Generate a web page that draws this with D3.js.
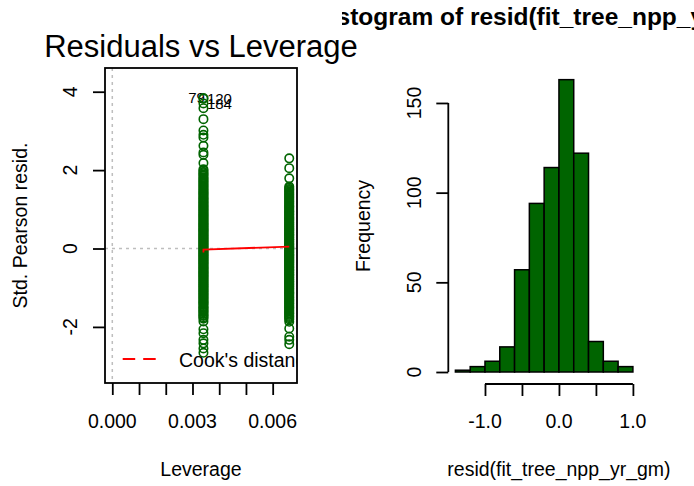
<!DOCTYPE html>
<html><head><meta charset="utf-8">
<script src="https://cdn.jsdelivr.net/npm/d3@7"></script>
<style>body{margin:0;background:#fff}svg{display:block}text{font-family:"Liberation Sans",Arial,sans-serif;fill:#000}</style>
</head><body>
<svg id="c" width="694" height="486"></svg>
<script>
// ---- Left panel: Residuals vs Leverage ----
const leverageGroups = [0.00341, 0.00662];
const residGroup1 = [-2.66,-2.55,-2.42,-2.33,-2.16,-2.06,-1.86,
-1.79,-1.76,-1.72,-1.70,-1.67,-1.63,-1.61,-1.58,-1.55,-1.52,-1.50,-1.47,-1.43,-1.41,-1.38,-1.36,-1.33,-1.30,-1.27,-1.25,-1.22,-1.19,-1.17,-1.14,-1.11,-1.09,-1.06,-1.04,-1.01,-0.98,-0.96,-0.93,-0.91,-0.88,-0.86,-0.83,-0.81,-0.78,-0.76,-0.73,-0.71,-0.68,-0.66,-0.63,-0.61,-0.59,-0.56,-0.54,-0.51,-0.49,-0.47,-0.44,-0.42,-0.39,-0.37,-0.35,-0.32,-0.30,-0.28,-0.25,-0.23,-0.21,-0.18,-0.16,-0.14,-0.11,-0.09,-0.07,-0.04,-0.02,0.00,0.03,0.05,0.07,0.10,0.12,0.14,0.17,0.19,0.21,0.24,0.26,0.28,0.31,0.33,0.35,0.38,0.40,0.43,0.45,0.47,0.50,0.52,0.55,0.57,0.60,0.62,0.64,0.67,0.69,0.72,0.74,0.77,0.79,0.82,0.84,0.87,0.89,0.92,0.95,0.97,1.00,1.02,1.05,1.08,1.10,1.13,1.16,1.18,1.21,1.24,1.27,1.29,1.32,1.35,1.38,1.41,1.43,1.46,1.49,1.52,1.55,1.58,1.61,1.64,1.67,1.70,1.73,1.76,1.79,1.82,1.86,1.89,1.92,1.95,1.99,
2.02,2.18,2.39,2.45,2.62,2.83,2.90,3.01,3.30,3.58,3.70,3.82,3.84];
const residGroup2 = [-2.44,-2.33,-2.25,-2.04,-1.87,
-1.81,-1.78,-1.75,-1.72,-1.69,-1.66,-1.64,-1.61,-1.58,-1.55,-1.52,-1.50,-1.47,-1.44,-1.41,-1.39,-1.36,-1.33,-1.31,-1.28,-1.25,-1.23,-1.20,-1.17,-1.15,-1.12,-1.10,-1.07,-1.04,-1.02,-0.99,-0.97,-0.94,-0.92,-0.89,-0.87,-0.84,-0.82,-0.79,-0.77,-0.74,-0.72,-0.69,-0.67,-0.65,-0.62,-0.60,-0.57,-0.55,-0.53,-0.50,-0.48,-0.46,-0.43,-0.41,-0.38,-0.36,-0.34,-0.31,-0.29,-0.27,-0.24,-0.22,-0.20,-0.17,-0.15,-0.13,-0.10,-0.08,-0.06,-0.03,-0.01,0.02,0.04,0.06,0.09,0.11,0.13,0.16,0.18,0.21,0.23,0.25,0.28,0.30,0.33,0.35,0.37,0.40,0.42,0.45,0.47,0.50,0.52,0.55,0.57,0.60,0.62,0.65,0.67,0.70,0.73,0.75,0.78,0.80,0.83,0.86,0.88,0.91,0.94,0.96,0.99,1.02,1.05,1.07,1.10,1.13,1.16,1.19,1.22,1.25,1.28,1.31,1.34,1.37,1.40,1.43,1.46,1.49,1.52,1.55,1.58,
1.79,2.05,2.30];
const smoothLev = [0.00341, 0.00341, 0.00662];
const smoothRes = [-0.10, -0.03, 0.05];
const idLabels = ["79", "120", "184"];
const idLev = [0.00341, 0.00341, 0.00341];
const idRes = [3.84, 3.82, 3.70];
const idSide = ["left", "right", "right"];
const levTicks = [0, 0.001, 0.002, 0.003, 0.004, 0.005, 0.006];
const levTickLabels = ["0.000", "0.003", "0.006"];
const residTicks = [-2, 0, 2, 4];

// ---- Right panel: histogram ----
const histBreaks = [-1.4,-1.2,-1.0,-0.8,-0.6,-0.4,-0.2,0.0,0.2,0.4,0.6,0.8,1.0];
const histCounts = [1,3,6,14,57,94,114,163,122,17,6,3];
const histXTicks = [-1.0,-0.5,0.0,0.5,1.0];
const histXTickLabels = ["-1.0","0.0","1.0"];
const histYTicks = [0,50,100,150];

const svg = d3.select("#c");
const FS = 19.5;
const green = "#006400";

// Left panel scales
const L = {l:105, r:297, t:68, b:383};
const x1 = d3.scaleLinear().domain([-0.000273, 0.00691]).range([L.l, L.r]);
const y1 = d3.scaleLinear().domain([-3.431, 4.605]).range([L.b, L.t]);

svg.append("defs").append("clipPath").attr("id","clipL")
  .append("rect").attr("x",L.l).attr("y",L.t).attr("width",L.r-L.l).attr("height",L.b-L.t);
svg.select("defs").append("clipPath").attr("id","clipT")
  .append("rect").attr("x",342).attr("y",0).attr("width",352).attr("height",60);

const gL = svg.append("g").attr("clip-path","url(#clipL)");
// reference lines
gL.append("line").attr("x1",L.l).attr("x2",L.r).attr("y1",y1(0)).attr("y2",y1(0))
  .attr("stroke","#bebebe").attr("stroke-width",1.5).attr("stroke-dasharray","3,4");
gL.append("line").attr("x1",x1(0)).attr("x2",x1(0)).attr("y1",L.t).attr("y2",L.b)
  .attr("stroke","#bebebe").attr("stroke-width",1.5).attr("stroke-dasharray","3,4");

// id labels
idLabels.forEach((lab,i)=>{
  const px = x1(idLev[i]) + (idSide[i]==="left" ? 1.5 : 3.5);
  gL.append("text").attr("x",px).attr("y",y1(idRes[i])+5.5)
    .attr("text-anchor", idSide[i]==="left" ? "end" : "start")
    .attr("font-size",15).attr("fill","#222").text(lab);
});

// points
const pts = [];
residGroup1.forEach(v=>pts.push([leverageGroups[0], v]));
residGroup2.forEach(v=>pts.push([leverageGroups[1], v]));
gL.selectAll("circle.p").data(pts).enter().append("circle").attr("class","p")
  .attr("cx",d=>x1(d[0])).attr("cy",d=>y1(d[1])).attr("r",4.2)
  .attr("fill","none").attr("stroke",green).attr("stroke-width",1.6);

// smooth line
gL.append("path").datum(d3.zip(smoothLev, smoothRes))
  .attr("d", d3.line().x(d=>x1(d[0])).y(d=>y1(d[1])))
  .attr("fill","none").attr("stroke","red").attr("stroke-width",1.8);

// legend
gL.append("line").attr("x1",122.7).attr("x2",155.7).attr("y1",359).attr("y2",359)
  .attr("stroke","red").attr("stroke-width",1.8).attr("stroke-dasharray","12.5,8");
gL.append("text").attr("x",179).attr("y",366.5).attr("font-size",FS).text("Cook's distance");

// box
svg.append("rect").attr("x",L.l).attr("y",L.t).attr("width",L.r-L.l).attr("height",L.b-L.t)
  .attr("fill","none").attr("stroke","#000").attr("stroke-width",1.8);

// axes left
const axX1 = svg.append("g").attr("transform",`translate(0,${L.b})`)
  .call(d3.axisBottom(x1).tickValues(levTicks).tickSize(12).tickFormat(""));
axX1.select(".domain").remove();
axX1.selectAll("line").attr("stroke","#000").attr("stroke-width",1.8);
levTickLabels.forEach(t=>{
  svg.append("text").attr("x",x1(+t)).attr("y",428).attr("text-anchor","middle")
    .attr("font-size",FS).text(t);
});
const axY1 = svg.append("g").attr("transform",`translate(${L.l},0)`)
  .call(d3.axisLeft(y1).tickValues(residTicks).tickSize(12).tickFormat(""));
axY1.select(".domain").remove();
axY1.selectAll("line").attr("stroke","#000").attr("stroke-width",1.8);
residTicks.forEach(t=>{
  svg.append("text").attr("transform",`translate(77,${y1(t)}) rotate(-90)`)
    .attr("text-anchor","middle").attr("font-size",FS).text(t);
});
svg.append("text").attr("transform",`translate(27,${(L.t+L.b)/2}) rotate(-90)`)
  .attr("text-anchor","middle").attr("font-size",FS).text("Std. Pearson resid.");
svg.append("text").attr("x",(L.l+L.r)/2).attr("y",476).attr("text-anchor","middle")
  .attr("font-size",FS).text("Leverage");
svg.append("text").attr("x",(L.l+L.r)/2).attr("y",57).attr("text-anchor","middle")
  .attr("font-size",31).text("Residuals vs Leverage");

// ---- histogram ----
const R = {l:448.3, r:640, t:68, b:384};
const x2 = d3.scaleLinear().domain([-1.496, 1.096]).range([R.l, R.r]);
const y2 = d3.scaleLinear().domain([-6.69, 169.5]).range([R.b, R.t]);
const bins = histCounts.map((c,i)=>({x0:histBreaks[i], x1:histBreaks[i+1], n:c}));
svg.append("g").selectAll("rect").data(bins).enter().append("rect")
  .attr("x",d=>x2(d.x0)).attr("width",d=>x2(d.x1)-x2(d.x0))
  .attr("y",d=>y2(d.n)).attr("height",d=>y2(0)-y2(d.n))
  .attr("fill",green).attr("stroke","#000").attr("stroke-width",1.5);

const axX2 = svg.append("g").attr("transform",`translate(0,${R.b})`)
  .call(d3.axisBottom(x2).tickValues(histXTicks).tickSize(12).tickSizeOuter(0).tickFormat(""));
axX2.select(".domain").attr("d",`M${x2(-1)},0H${x2(1)}`).attr("stroke","#000").attr("stroke-width",1.8);
axX2.selectAll("line").attr("stroke","#000").attr("stroke-width",1.8);
histXTickLabels.forEach(t=>{
  svg.append("text").attr("x",x2(+t)).attr("y",428).attr("text-anchor","middle")
    .attr("font-size",FS).text(t);
});
const axY2 = svg.append("g").attr("transform",`translate(${R.l},0)`)
  .call(d3.axisLeft(y2).tickValues(histYTicks).tickSize(12).tickSizeOuter(0).tickFormat(""));
axY2.select(".domain").attr("d",`M0,${y2(0)}V${y2(150)}`).attr("stroke","#000").attr("stroke-width",1.8);
axY2.selectAll("line").attr("stroke","#000").attr("stroke-width",1.8);
histYTicks.forEach(t=>{
  svg.append("text").attr("transform",`translate(${R.l-27},${y2(t)}) rotate(-90)`)
    .attr("text-anchor","middle").attr("font-size",FS).text(t);
});
svg.append("text").attr("transform",`translate(${R.l-78},${(R.t+R.b)/2}) rotate(-90)`)
  .attr("text-anchor","middle").attr("font-size",FS).text("Frequency");
svg.append("text").attr("x",x2(0)).attr("y",476).attr("text-anchor","middle")
  .attr("font-size",FS).text("resid(fit_tree_npp_yr_gm)");
svg.append("g").attr("clip-path","url(#clipT)").append("text")
  .attr("x",312).attr("y",25).attr("font-size",24.5).attr("font-weight","bold")
  .text("Histogram of resid(fit_tree_npp_yr_gm)");
</script>
</body></html>
